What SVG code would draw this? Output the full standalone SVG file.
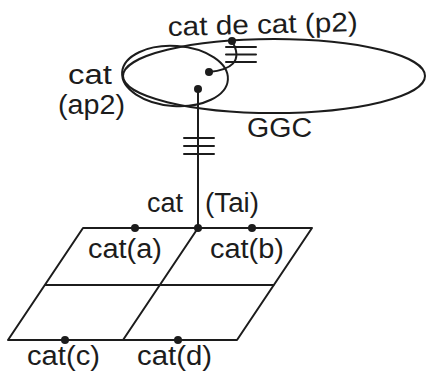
<svg xmlns="http://www.w3.org/2000/svg" width="427" height="374" viewBox="0 0 427 374">
<style>
.ln{fill:none;stroke:#1c1c1c;stroke-width:2;stroke-linecap:round;stroke-linejoin:round}
.dot{fill:#1c1c1c}
.t{font-family:"Liberation Sans",Arial,sans-serif;font-size:27px;fill:#1c1c1c}
</style>
<rect width="427" height="374" fill="#fff"/>
<g id="node-ggc">
<ellipse class="ln" cx="274" cy="76" rx="151" ry="37"/>
<text class="t" x="247" y="137" textLength="65" lengthAdjust="spacingAndGlyphs">GGC</text>
</g>
<g id="node-ap2">
<ellipse class="ln" cx="175" cy="76" rx="53" ry="30" transform="rotate(4 175 76)"/>
<text class="t" x="68" y="84" textLength="44" lengthAdjust="spacingAndGlyphs">cat</text>
<text class="t" x="58" y="114" textLength="67" lengthAdjust="spacingAndGlyphs">(ap2)</text>
<circle class="dot" cx="209" cy="72" r="4"/>
<circle class="dot" cx="198" cy="89" r="4"/>
</g>
<g id="node-p2">
<circle class="dot" cx="232" cy="41" r="4"/>
<text class="t" x="168" y="36" textLength="190" lengthAdjust="spacingAndGlyphs" transform="rotate(-1.5 168 36)">cat de cat (p2)</text>
</g>
<g id="node-tai">
<text class="t" x="147" y="212" textLength="36" lengthAdjust="spacingAndGlyphs">cat</text>
<text class="t" x="205" y="212" textLength="54" lengthAdjust="spacingAndGlyphs">(Tai)</text>
</g>
<g id="node-grid">
<path class="ln" d="M83,228 L312,228 L237,340 L8,340 Z M45,285 L274,285 M198,228 L123,340"/>
</g>
<g id="node-a">
<circle class="dot" cx="135" cy="228" r="4"/>
<text class="t" x="88" y="258" textLength="74" lengthAdjust="spacingAndGlyphs">cat(a)</text>
</g>
<g id="node-b">
<circle class="dot" cx="252" cy="228" r="4"/>
<text class="t" x="210" y="258" textLength="74" lengthAdjust="spacingAndGlyphs">cat(b)</text>
</g>
<g id="node-c">
<circle class="dot" cx="65" cy="340" r="4"/>
<text class="t" x="27" y="365" textLength="73" lengthAdjust="spacingAndGlyphs">cat(c)</text>
</g>
<g id="node-d">
<circle class="dot" cx="178" cy="340" r="4"/>
<text class="t" x="137" y="365" textLength="75" lengthAdjust="spacingAndGlyphs">cat(d)</text>
</g>
<g id="connectors">
<path class="ln" d="M198,89 L198,228"/>
<circle class="dot" cx="198" cy="228" r="4"/>
<path class="ln" d="M184,138 H214 M184,146 H214 M184,154 H214"/>
<path class="ln" d="M209,72 C230,70 244,62 232,41"/>
<path class="ln" d="M226,47 H256 M226,54.5 H256 M226,62 H256"/>
</g>
</svg>
